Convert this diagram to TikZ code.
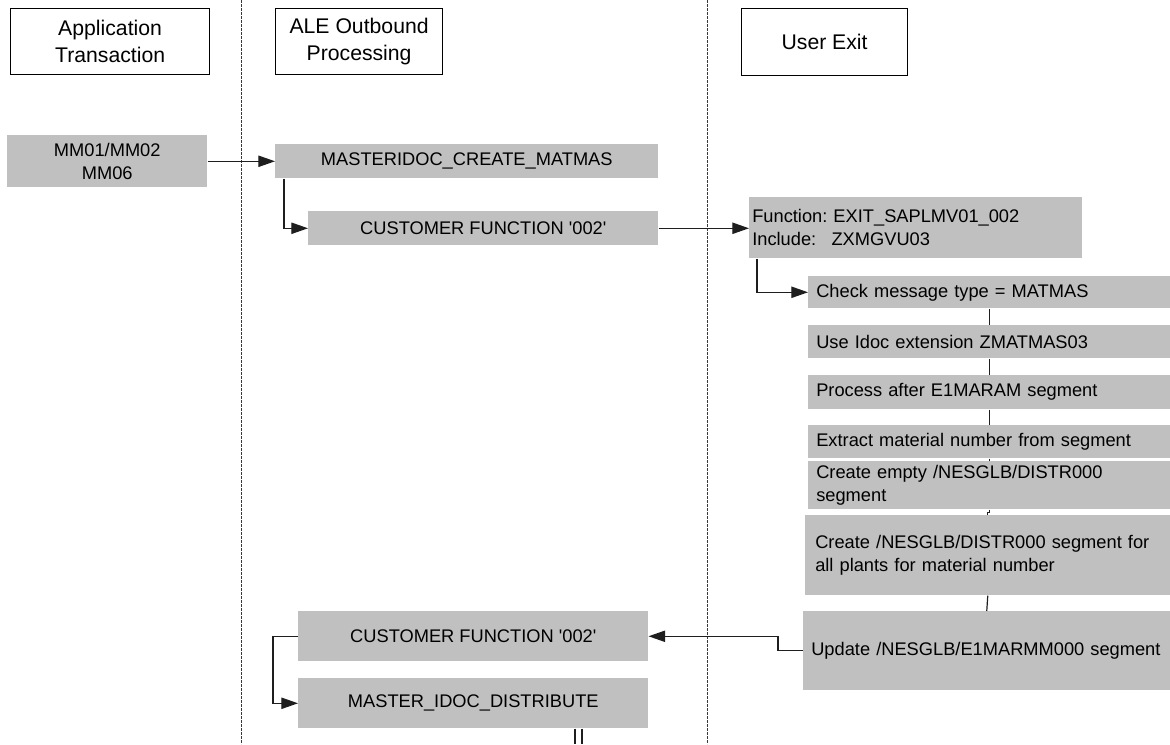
\documentclass[tikz,border=0pt]{standalone}
\usepackage{fontspec}
\setmainfont{Liberation Sans}
\usetikzlibrary{arrows.meta,calc}
\newcommand\pxu{0.75pt}
\newcommand\sq{\textquotesingle}
\definecolor{boxgray}{HTML}{C0C0C0}
\definecolor{lineink}{HTML}{1E1E1E}
\definecolor{laneink}{HTML}{3A3A3A}
\frenchspacing
\begin{document}
\begin{tikzpicture}[x=0.75pt,y=-0.75pt,
  bodyfont/.style={font=\fontsize{13.7pt}{17.5pt}\selectfont},
  headbox/.style={draw=black, line width=0.9pt, fill=white, anchor=north west,
    align=center, inner sep=0pt, font=\fontsize{15.9pt}{20pt}\selectfont},
  gbox/.style={fill=boxgray, anchor=north west, inner sep=0pt, bodyfont, align=center},
  lbox/.style={fill=boxgray, anchor=north west, inner ysep=0pt, bodyfont, align=left},
  conn/.style={draw=lineink, line width=0.9pt},
  arr/.style={conn, -{Triangle[length=12.5pt,width=8.5pt]}},
  lane/.style={draw=laneink, line width=0.9pt, dash pattern=on 2.2pt off 0.8pt}]
\useasboundingbox (0,0) rectangle (1170,744);

% swim lane separators
\draw[lane] (241.5,0) -- (241.5,744);
\draw[lane] (707.5,0) -- (707.5,744);

% lane headers
\node[headbox, minimum width=199*\pxu, minimum height=66*\pxu] (h1) at (10,8) {Application\\Transaction};
\node[headbox, minimum width=167*\pxu, minimum height=66*\pxu] (h2) at (275,8) {ALE Outbound\\Processing};
\node[headbox, minimum width=166*\pxu, minimum height=67*\pxu] (h3) at (741,8) {User Exit};

% application transaction
\node[gbox, minimum width=200*\pxu, minimum height=52*\pxu] (mm) at (7,135) {MM01/MM02\\MM06};

% ALE outbound processing
\node[gbox, minimum width=383*\pxu, minimum height=34*\pxu] (mast) at (275,144) {MASTERIDOC\_CREATE\_MATMAS};
\node[gbox, minimum width=350*\pxu, minimum height=34*\pxu] (cf1) at (308,211) {CUSTOMER FUNCTION \sq002\sq};
\node[gbox, minimum width=350*\pxu, minimum height=50*\pxu] (cf2) at (298,611) {CUSTOMER FUNCTION \sq002\sq};
\node[gbox, minimum width=350*\pxu, minimum height=50*\pxu] (mid) at (298,678) {MASTER\_IDOC\_DISTRIBUTE};

% user exit steps
\node[lbox, inner xsep=3*\pxu, text width=327*\pxu, minimum height=61*\pxu] (func) at (749,197)
  {Function: EXIT\_SAPLMV01\_002\\Include:\hspace{11.5pt}ZXMGVU03};
\node[lbox, inner xsep=8*\pxu, text width=346*\pxu, minimum height=32*\pxu] (chk) at (808,276) {Check message type = MATMAS};
\node[lbox, inner xsep=8*\pxu, text width=346*\pxu, minimum height=33*\pxu] (use) at (808,325) {Use Idoc extension ZMATMAS03};
\node[lbox, inner xsep=8*\pxu, text width=346*\pxu, minimum height=34*\pxu] (proc) at (808,375) {Process after E1MARAM segment};
\node[lbox, inner xsep=8*\pxu, text width=346*\pxu, minimum height=33*\pxu] (extr) at (808,425) {Extract material number from segment};
\node[lbox, inner xsep=8*\pxu, text width=346*\pxu, minimum height=48*\pxu] (cemp) at (808,461) {Create empty /NESGLB/DISTR000\\segment};
\node[lbox, inner xsep=10*\pxu, text width=345*\pxu, minimum height=80*\pxu] (cseg) at (805,515)
  {Create /NESGLB/DISTR000 segment for\\all plants for material number\\[4pt]};
\node[lbox, inner xsep=8*\pxu, text width=351*\pxu, minimum height=79*\pxu] (upd) at (803,611) {Update /NESGLB/E1MARMM000 segment};

% outgoing link below the distribution step
\coordinate (outA) at (575,744);
\coordinate (outB) at (582,744);

% connectors
\draw[arr] (mm.east) -- (mm.east -| mast.west);
\draw[arr] ([xshift=9*\pxu]mast.south west) |- (cf1.west);
\draw[arr] (cf1.east) -- (cf1.east -| func.west);
\draw[arr] ([xshift=8*\pxu]func.south west) |- (chk.west);
\draw[conn] (chk.south) -- (use.north);
\draw[conn] (use.south) -- (proc.north);
\draw[conn] (proc.south) -- (extr.north);
\draw[conn] (extr.south) -- (cemp.north);
\draw[conn] (cemp.south) -- ++(0,3) -| (cseg.north);
\draw[conn] (cseg.south) -- (upd.north);
\draw[arr] (upd.west) -- ++(-25,0) |- (cf2.east);
\draw[arr] (cf2.west) -- ++(-25,0) |- (mid.west);
\draw[conn] (mid.south -| outA) -- (outA);
\draw[conn] (mid.south -| outB) -- (outB);
\end{tikzpicture}
\end{document}
